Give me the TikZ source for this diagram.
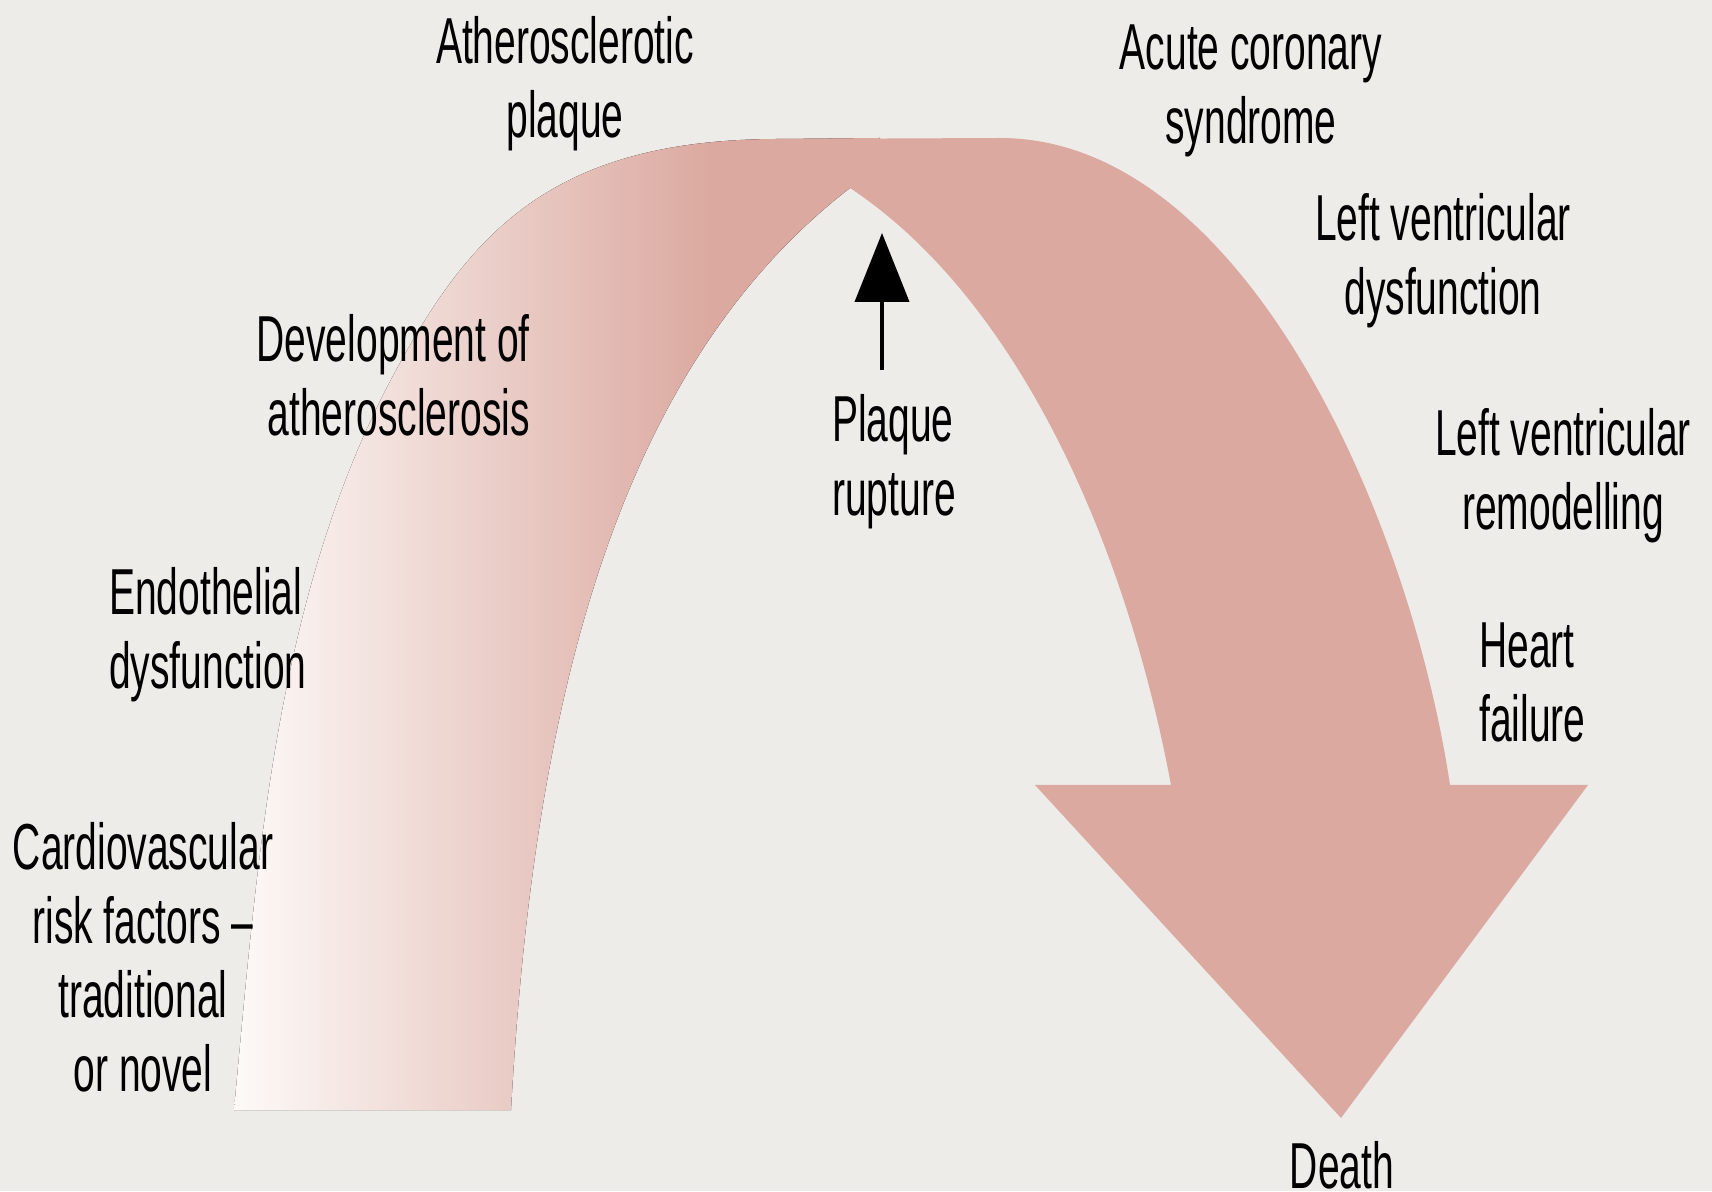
\documentclass[tikz,border=0pt]{standalone}
\usepackage{fontspec}
\setmainfont{Liberation Sans}[FakeStretch=0.60]
\usetikzlibrary{arrows.meta,calc}
\definecolor{bgc}{HTML}{EDECE8}
\definecolor{bandpink}{HTML}{DBA9A0}
\definecolor{bandwhite}{HTML}{FDFAF8}
\pgfdeclarehorizontalshading{bandshade}{100bp}{color(0bp)=(bandwhite); color(25bp)=(bandwhite); color(62bp)=(bandpink); color(100bp)=(bandpink)}
\tikzset{
  lbl/.style={font=\fontsize{65}{74}\selectfont, inner sep=0pt, text=black},
  ptr/.style={line width=4pt, -{Triangle[length=69pt,width=54pt]}}
}
\begin{document}
\begin{tikzpicture}[x=1pt,y=1pt]
\useasboundingbox (0,0) rectangle (1712,1191);
\fill[bgc] (0,0) rectangle (1712,1191);
% left (rising) band with gradient
\fill[shading=bandshade] (234,81) .. controls (258,335) and (276,605) .. (400,828)
  .. controls (475,965) and (560,1052) .. (780,1052) -- (880,1053) -- (850,1003)
  .. controls (613,820) and (533,480) .. (511,81) -- cycle;
% right (falling) band with arrow head
\fill[bandpink] (850,1003) -- (730,1050) -- (780,1052) -- (1000,1053)
  .. controls (1240,1053) and (1408,683) .. (1450,406)
  -- (1588,406) -- (1341,73) -- (1035,406) -- (1171,406)
  .. controls (1125,652) and (1016,893) .. (850,1003) -- cycle;
% labels
\node[lbl, align=center, anchor=north] (ap) at (565,1175) {Atherosclerotic\\plaque};
\node[lbl, align=center, anchor=north] (acs) at (1251,1166) {Acute coronary\\syndrome};
\node[lbl, align=center, anchor=north] (lvd) at (1443,998) {Left ventricular\\dysfunction};
\node[lbl, align=right, anchor=north east] (dev) at (530,877) {Development of\\atherosclerosis};
\node[lbl, align=left, anchor=north west] (pr) at (832,797) {Plaque\\rupture};
\node[lbl, align=center, anchor=north] (lvr) at (1563,783) {Left ventricular\\remodelling};
\node[lbl, align=left, anchor=north west] (hf) at (1479,568) {Heart\\failure};
\node[lbl, align=left, anchor=north west] (ed) at (109,624) {Endothelial\\dysfunction};
\node[lbl, align=center, anchor=north] (cv) at (143,369) {Cardiovascular\\risk factors \textendash\\traditional\\or novel};
\node[lbl, anchor=base] (death) at (1342,3) {Death};
% plaque rupture pointer
\coordinate (tip) at (882,958);
\draw[ptr] ($(pr.north -| tip)+(0,24)$) -- (tip);
\end{tikzpicture}
\end{document}
